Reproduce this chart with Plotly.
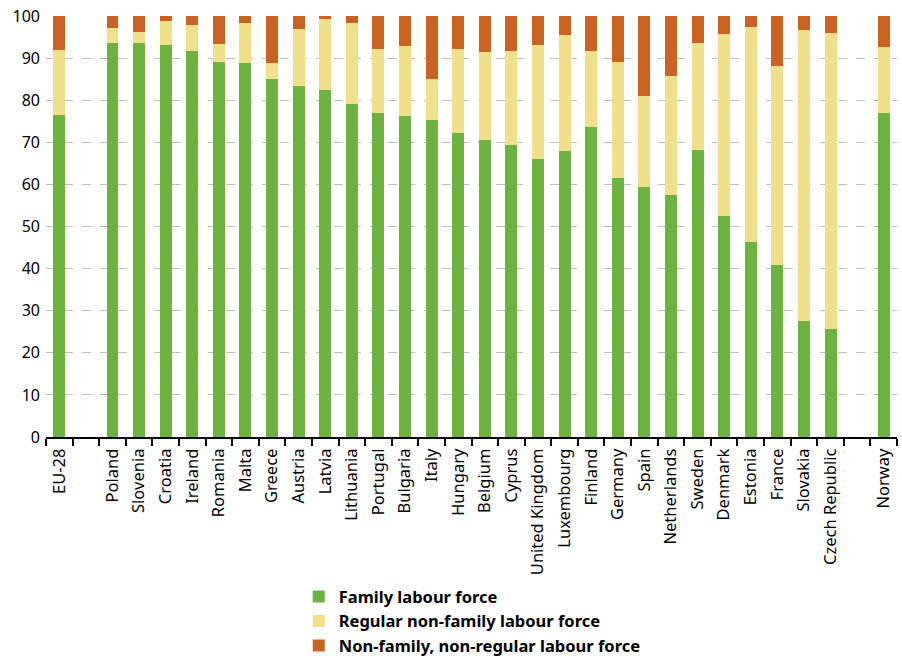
import plotly.graph_objects as go

categories = ["EU-28", " ", "Poland", "Slovenia", "Croatia", "Ireland", "Romania", "Malta",
              "Greece", "Austria", "Latvia", "Lithuania", "Portugal", "Bulgaria", "Italy",
              "Hungary", "Belgium", "Cyprus", "United Kingdom", "Luxembourg", "Finland",
              "Germany", "Spain", "Netherlands", "Sweden", "Denmark", "Estonia", "France",
              "Slovakia", "Czech Republic", "  ", "Norway"]

family = [76.4, None, 93.7, 93.7, 93.1, 91.7, 89.0, 88.9, 85.0, 83.4, 82.4, 79.1, 77.0, 76.2,
          75.3, 72.3, 70.5, 69.4, 66.0, 68.0, 73.6, 61.5, 59.4, 57.6, 68.2, 52.4, 46.3, 40.9,
          27.5, 25.6, None, 77.0]
regular = [15.6, None, 3.4, 2.6, 5.7, 6.2, 4.3, 9.4, 3.8, 13.4, 17.0, 19.2, 15.1, 16.7,
           9.7, 19.8, 21.0, 22.4, 27.1, 27.6, 18.2, 27.6, 21.6, 28.1, 25.5, 43.4, 51.2, 47.3,
           69.2, 70.4, None, 15.7]
nonregular = [8.0, None, 2.9, 3.7, 1.2, 2.1, 6.7, 1.7, 11.2, 3.2, 0.6, 1.7, 7.9, 7.1,
              15.0, 7.9, 8.5, 8.2, 6.9, 4.4, 8.2, 10.9, 19.0, 14.3, 6.3, 4.2, 2.5, 11.8,
              3.3, 4.0, None, 7.3]

series_names = ["Family labour force", "Regular non-family labour force",
                "Non-family, non-regular labour force"]
colors = ["#6bb23f", "#f1e08b", "#c9631f"]

FONT = "Noto Sans"

fig = go.Figure()
for name, vals, col in zip(series_names, [family, regular, nonregular], colors):
    fig.add_trace(go.Bar(x=categories, y=vals, name=name, marker_color=col,
                         marker_line_width=0))

fig.update_layout(
    barmode="stack",
    bargap=0.55,
    width=902, height=659,
    margin=dict(l=46, r=5, t=16, b=222, autoexpand=False),
    plot_bgcolor="white", paper_bgcolor="white",
    font=dict(family=FONT, size=16, color="black"),
    showlegend=True,
    legend=dict(x=0.297, y=-0.338, xanchor="left", yanchor="top", traceorder="normal",
                font=dict(family=FONT, size=16.5, color="black", weight="bold"),
                tracegroupgap=2),
)
fig.update_xaxes(type="category", showline=True, linecolor="black", linewidth=2,
                 ticks="outside", tickson="boundaries", ticklen=7, tickwidth=2,
                 tickcolor="black", tickangle=-90, showgrid=False, automargin=False,
                 ticklabelstandoff=3,
                 tickfont=dict(family=FONT, size=16.5, color="black"))
fig.update_yaxes(range=[0, 100], dtick=10, showgrid=True, gridcolor="#c0c0c0",
                 griddash="dash", gridwidth=1, zeroline=False, showline=False,
                 ticks="", automargin=False, ticklabelstandoff=5,
                 tickfont=dict(family=FONT, size=16, color="black"))

post = ("document.documentElement.style.margin='0';"
        "document.documentElement.style.overflow='hidden';"
        "document.body.style.margin='0';"
        "document.body.style.overflow='hidden';")

fig.write_html("out.html", config={"displayModeBar": False}, post_script=post)
